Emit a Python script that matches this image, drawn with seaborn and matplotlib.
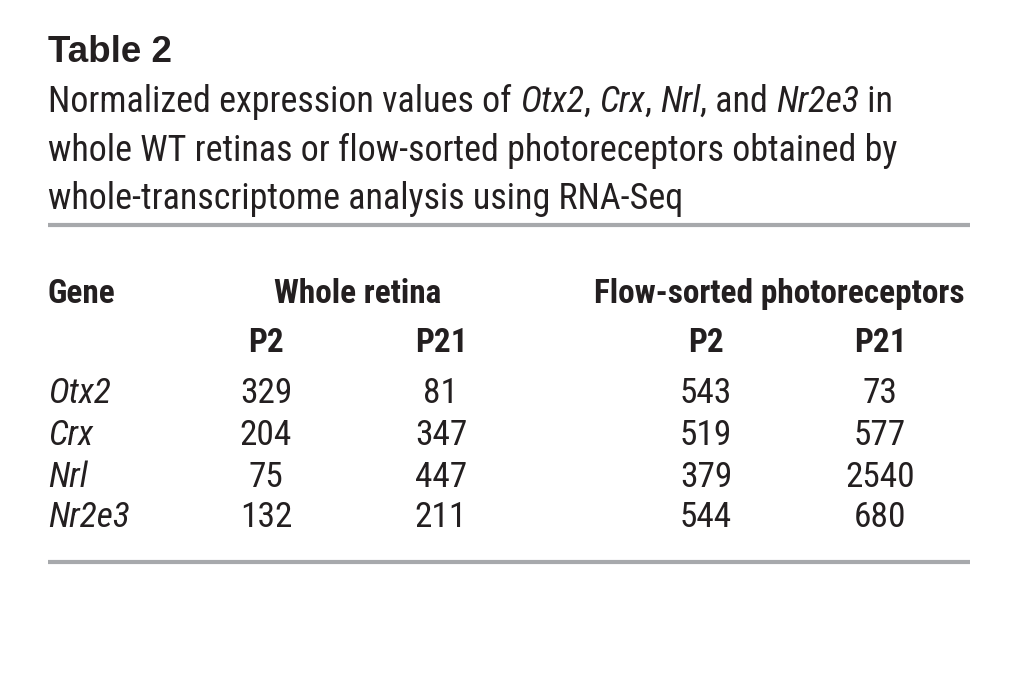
import matplotlib
matplotlib.use("Agg")
import matplotlib.pyplot as plt
from matplotlib import font_manager
import seaborn as sns
import pandas as pd

# ---- data ----
title = "Table 2"
caption_runs = [
    [("Normalized expression values of ", False), ("Otx2", True), (", ", False),
     ("Crx", True), (", ", False), ("Nrl", True), (", and ", False),
     ("Nr2e3", True), (" in", False)],
    [("whole WT retinas or flow-sorted photoreceptors obtained by", False)],
    [("whole-transcriptome analysis using RNA-Seq", False)],
]
genes = ["Otx2", "Crx", "Nrl", "Nr2e3"]
group_labels = ["Whole retina", "Flow-sorted photoreceptors"]
stage_labels = ["P2", "P21", "P2", "P21"]
whole_p2 = [329, 204, 75, 132]
whole_p21 = [81, 347, 447, 211]
flow_p2 = [543, 519, 379, 544]
flow_p21 = [73, 577, 2540, 680]

df = pd.DataFrame({"Gene": genes, "WR_P2": whole_p2, "WR_P21": whole_p21,
                   "FS_P2": flow_p2, "FS_P21": flow_p21})

sns.set_theme(style="white")
names = {f.name for f in font_manager.fontManager.ttflist}
narrow = next((n for n in ["Roboto Condensed", "Archivo Narrow", "Fira Sans Condensed",
                           "Barlow Condensed", "Liberation Sans"] if n in names), "DejaVu Sans")
plt.rcParams["font.family"] = [narrow, "DejaVu Sans"]

TXT = "#231f20"
RULE = "#a7a9ac"
BODY_W = "normal"

fig = plt.figure(figsize=(10.18, 6.84), dpi=100)
fig.patch.set_facecolor("white")
ax = fig.add_axes([0, 0, 1, 1])
ax.set_xlim(0, 1018)
ax.set_ylim(684, 0)
ax.axis("off")
renderer = fig.canvas.get_renderer()


def fit_size(text, target, base=24, **kw):
    t = ax.text(0, 0, text, fontsize=base, **kw)
    w = t.get_window_extent(renderer).width
    t.remove()
    return base * target / w


def draw_runs(x, y, runs, size, **kw):
    for txt, it in runs:
        t = ax.text(x, y, txt, fontsize=size, style="italic" if it else "normal",
                    va="baseline", ha="left", **kw)
        bb = t.get_window_extent(renderer)
        x += bb.width  # pixel units == data units here


# title
tsize = fit_size(title, 124, fontweight="bold", family="Liberation Sans")
ax.text(48, 62, title, fontsize=tsize, fontweight="bold", family="Liberation Sans",
        color=TXT, va="baseline", ha="left")

# caption
cap_size = fit_size(caption_runs[1][0][0], 852, fontweight=BODY_W)
for runs, yb in zip(caption_runs, [112, 161, 209]):
    draw_runs(48, yb, runs, cap_size, color=TXT, fontweight=BODY_W)

# rules
ax.plot([48, 970], [225, 225], color=RULE, lw=3, solid_capstyle="butt")
ax.plot([48, 970], [562, 562], color=RULE, lw=3, solid_capstyle="butt")

# headers
hdr = fit_size(group_labels[1], 372, fontweight="bold")
ax.text(48, 303, "Gene", fontsize=hdr, fontweight="bold", color=TXT, va="baseline", ha="left")
for lab, xc in zip(group_labels, [358, 779]):
    ax.text(xc, 303, lab, fontsize=hdr, fontweight="bold", color=TXT, va="baseline", ha="center")
col_x = [266, 441, 706, 880]
for lab, xc in zip(stage_labels, col_x):
    ax.text(xc, 352, lab, fontsize=hdr, fontweight="bold", color=TXT, va="baseline", ha="center")

# body
body = fit_size("2540", 70, fontweight=BODY_W)
row_y = [403, 445, 487, 527]
cols = ["WR_P2", "WR_P21", "FS_P2", "FS_P21"]
for i, row in df.iterrows():
    yb = row_y[i]
    ax.text(48, yb, row["Gene"], fontsize=body, style="italic", fontweight=BODY_W,
            color=TXT, va="baseline", ha="left")
    for c, xc in zip(cols, col_x):
        ax.text(xc, yb, str(row[c]), fontsize=body, fontweight=BODY_W, color=TXT,
                va="baseline", ha="center")

fig.savefig("out.png", dpi=100, facecolor="white")
